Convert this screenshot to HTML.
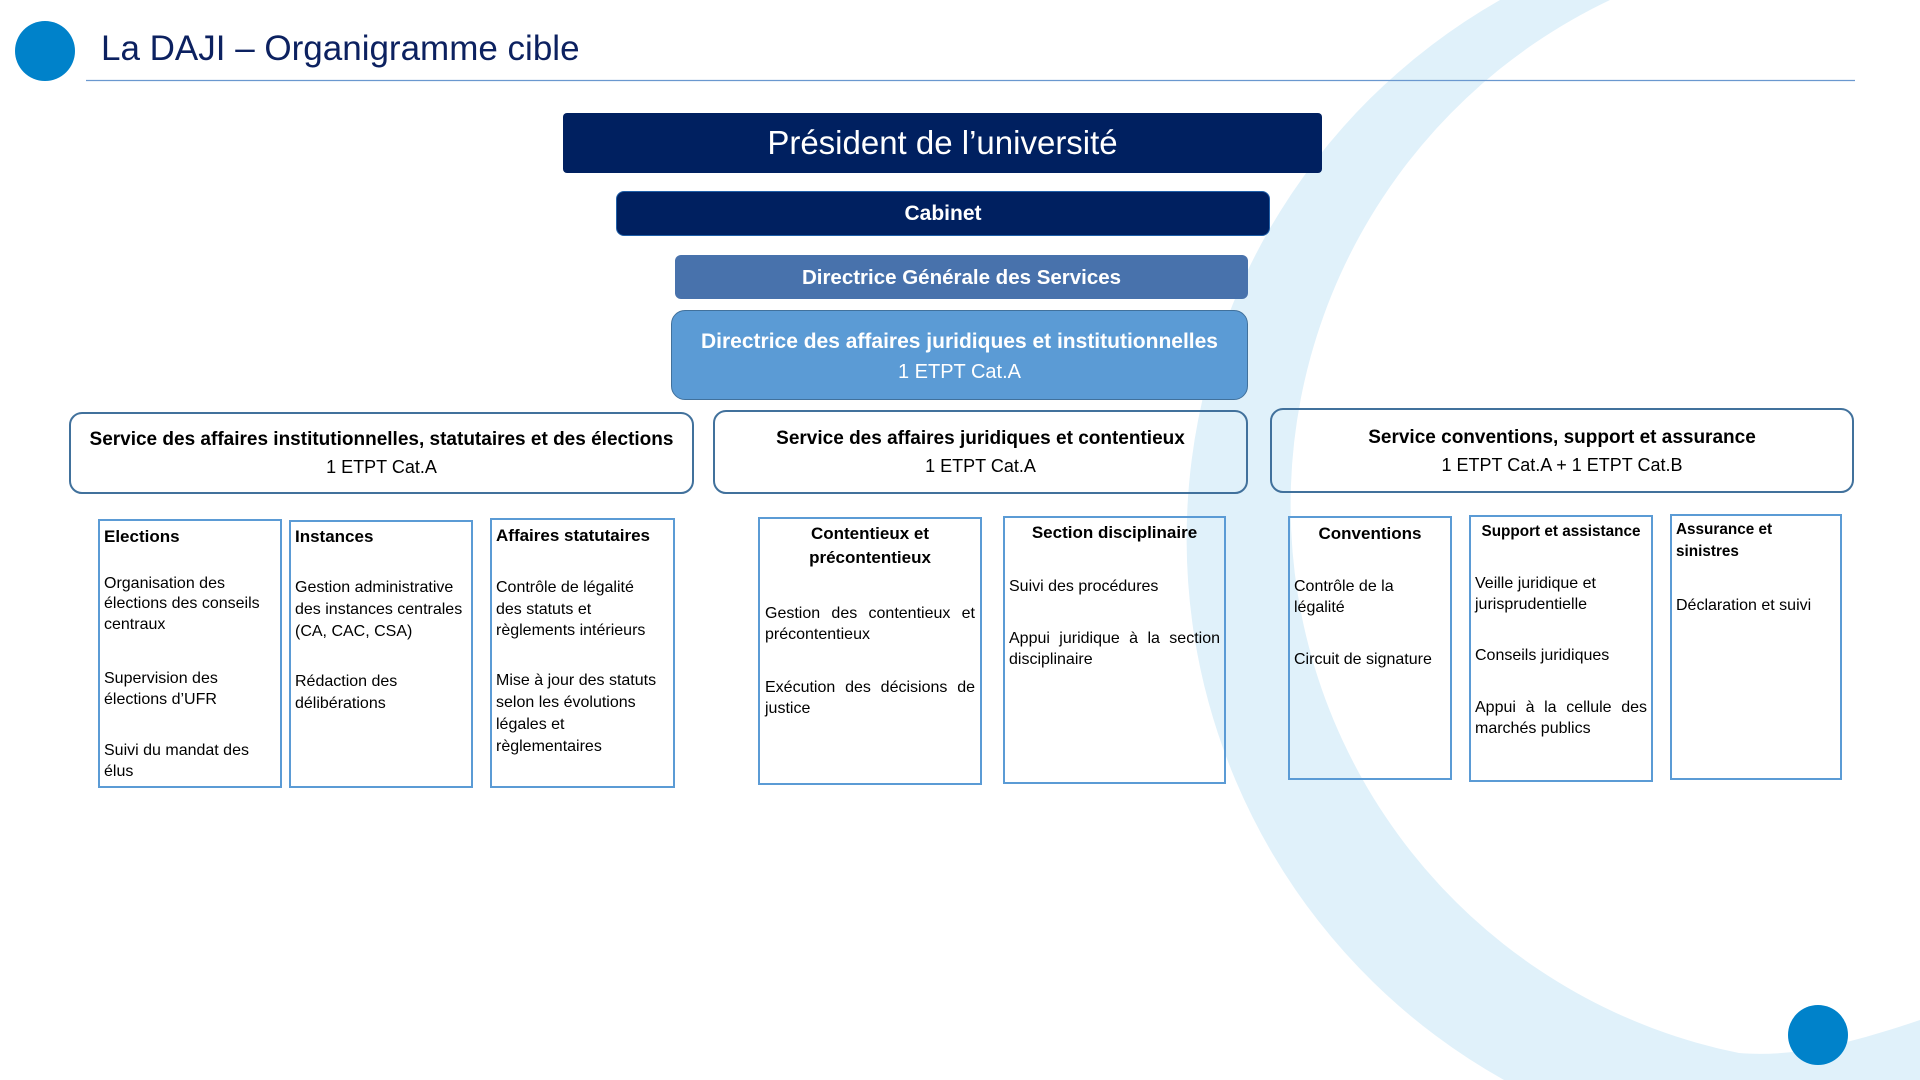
<!DOCTYPE html>
<html lang="fr">
<head>
<meta charset="utf-8">
<title>La DAJI – Organigramme cible</title>
<style>
  html,body{margin:0;padding:0;background:#fff;}
  #page{position:relative;width:1920px;height:1080px;overflow:hidden;background:#fff;font-family:"Liberation Sans",Arial,sans-serif;color:#000;}
  .abs{position:absolute;box-sizing:border-box;}
  .nw{white-space:nowrap;}
  .sb{position:absolute;box-sizing:border-box;border:2px solid #5b9bd5;background:transparent;}
  .svc{position:absolute;box-sizing:border-box;border:2px solid #41719c;border-radius:13px;background:transparent;}
  .h{position:absolute;white-space:nowrap;font-weight:bold;font-size:17px;line-height:20px;}
  .tx{position:absolute;white-space:nowrap;font-size:16px;line-height:21px;}
  .j{text-align:justify;text-align-last:justify;white-space:normal;}
  .ctr{text-align:center;}
</style>
</head>
<body>
<div id="page">

  <!-- background decoration -->
  <svg class="abs" style="left:0;top:0" width="1920" height="1080" viewBox="0 0 1920 1080">
    <path d="M1500 0 A620 620 0 0 0 1504 1080 L1920 1080 L1920 1020 C1860 1040 1800 1058 1739 1053 A559 559 0 0 1 1610 0 Z" fill="#e0f1fa"/>
    <line x1="86" y1="80.5" x2="1855" y2="80.5" stroke="#6a98cf" stroke-width="1.3"/>
    <circle cx="45" cy="51" r="30" fill="#0082ca"/>
    <circle cx="1818" cy="1035" r="30" fill="#0082ca"/>
  </svg>

  <!-- title -->
  <div class="abs nw" style="left:101px;top:29px;font-size:35px;line-height:40px;color:#0c2160;">La DAJI – Organigramme cible</div>

  <!-- President -->
  <div class="abs" style="left:563px;top:113px;width:759px;height:60px;background:#002060;border-radius:4px;"></div>
  <div class="abs nw ctr" style="left:563px;top:124px;width:759px;font-size:33px;line-height:38px;color:#fff;">Président de l’université</div>

  <!-- Cabinet -->
  <div class="abs" style="left:616px;top:191px;width:654px;height:45px;background:#002060;border:1.5px solid #1f5fa8;border-radius:8px;"></div>
  <div class="abs nw ctr" style="left:616px;top:202px;width:654px;font-size:21px;line-height:24px;color:#fff;font-weight:bold;">Cabinet</div>

  <!-- DGS -->
  <div class="abs" style="left:675px;top:255px;width:573px;height:44px;background:#4872ac;border-radius:6px;"></div>
  <div class="abs nw ctr" style="left:675px;top:266px;width:573px;font-size:20.5px;line-height:24px;color:#fff;font-weight:bold;">Directrice Générale des Services</div>

  <!-- DAJI -->
  <div class="abs" style="left:671px;top:310px;width:577px;height:90px;background:#5b9bd5;border:1.5px solid #41719c;border-radius:14px;"></div>
  <div class="abs nw ctr" style="left:671px;top:330px;width:577px;font-size:21px;line-height:24px;color:#fff;font-weight:bold;">Directrice des affaires juridiques et institutionnelles</div>
  <div class="abs nw ctr" style="left:671px;top:359.5px;width:577px;font-size:20px;line-height:24px;color:#fff;">1 ETPT Cat.A</div>

  <!-- Service boxes -->
  <div class="svc" style="left:69px;top:412px;width:625px;height:82px;"></div>
  <div class="abs nw ctr" style="left:69px;top:428.5px;width:625px;font-size:19px;line-height:22px;font-weight:bold;">Service des affaires institutionnelles, statutaires et des élections</div>
  <div class="abs nw ctr" style="left:69px;top:455.5px;width:625px;font-size:18px;line-height:22px;">1 ETPT Cat.A</div>

  <div class="svc" style="left:713px;top:410px;width:535px;height:84px;"></div>
  <div class="abs nw ctr" style="left:713px;top:428px;width:535px;font-size:19px;line-height:22px;font-weight:bold;">Service des affaires juridiques et contentieux</div>
  <div class="abs nw ctr" style="left:713px;top:454.5px;width:535px;font-size:18px;line-height:22px;">1 ETPT Cat.A</div>

  <div class="svc" style="left:1270px;top:408px;width:584px;height:85px;"></div>
  <div class="abs nw ctr" style="left:1270px;top:427px;width:584px;font-size:19px;line-height:22px;font-weight:bold;">Service conventions, support et assurance</div>
  <div class="abs nw ctr" style="left:1270px;top:453.5px;width:584px;font-size:18px;line-height:22px;">1 ETPT Cat.A + 1 ETPT Cat.B</div>

  <!-- Sub boxes -->
  <!-- Elections -->
  <div class="sb" style="left:98px;top:519px;width:184px;height:269px;"></div>
  <div class="h" style="left:104px;top:527px;">Elections</div>
  <div class="tx" style="left:104px;top:573.5px;line-height:20.5px;">Organisation des<br>élections des conseils<br>centraux</div>
  <div class="tx" style="left:104px;top:667.5px;">Supervision des<br>élections d’UFR</div>
  <div class="tx" style="left:104px;top:739.5px;">Suivi du mandat des<br>élus</div>

  <!-- Instances -->
  <div class="sb" style="left:289px;top:520px;width:184px;height:268px;"></div>
  <div class="h" style="left:295px;top:527px;">Instances</div>
  <div class="tx" style="left:295px;top:577px;line-height:22px;">Gestion administrative<br>des instances centrales<br>(CA, CAC, CSA)</div>
  <div class="tx" style="left:295px;top:671px;line-height:21.5px;">Rédaction des<br>délibérations</div>

  <!-- Affaires statutaires -->
  <div class="sb" style="left:490px;top:518px;width:185px;height:270px;"></div>
  <div class="h" style="left:496px;top:526px;">Affaires statutaires</div>
  <div class="tx" style="left:496px;top:577px;line-height:21.5px;">Contrôle de légalité<br>des statuts et<br>règlements intérieurs</div>
  <div class="tx" style="left:496px;top:670px;line-height:22px;">Mise à jour des statuts<br>selon les évolutions<br>légales et<br>règlementaires</div>

  <!-- Contentieux -->
  <div class="sb" style="left:758px;top:517px;width:224px;height:268px;"></div>
  <div class="h ctr" style="left:758px;top:522px;width:224px;line-height:24px;">Contentieux et<br>précontentieux</div>
  <div class="tx" style="left:765px;top:602.5px;width:210px;"><div class="j">Gestion des contentieux et</div>précontentieux</div>
  <div class="tx" style="left:765px;top:676.5px;width:210px;"><div class="j">Exécution des décisions de</div>justice</div>

  <!-- Section disciplinaire -->
  <div class="sb" style="left:1003px;top:516px;width:223px;height:268px;"></div>
  <div class="h ctr" style="left:1003px;top:523px;width:223px;">Section disciplinaire</div>
  <div class="tx" style="left:1009px;top:575.5px;">Suivi des procédures</div>
  <div class="tx" style="left:1009px;top:627.5px;width:211px;"><div class="j">Appui juridique à la section</div>disciplinaire</div>

  <!-- Conventions -->
  <div class="sb" style="left:1288px;top:516px;width:164px;height:264px;"></div>
  <div class="h ctr" style="left:1288px;top:524px;width:164px;">Conventions</div>
  <div class="tx" style="left:1294px;top:575.5px;">Contrôle de la<br>légalité</div>
  <div class="tx" style="left:1294px;top:648.5px;">Circuit de signature</div>

  <!-- Support et assistance -->
  <div class="sb" style="left:1469px;top:515px;width:184px;height:267px;"></div>
  <div class="h ctr" style="left:1469px;top:522px;width:184px;font-size:15.3px;">Support et assistance</div>
  <div class="tx" style="left:1475px;top:572.5px;">Veille juridique et<br>jurisprudentielle</div>
  <div class="tx" style="left:1475px;top:644.5px;">Conseils juridiques</div>
  <div class="tx" style="left:1475px;top:696.5px;width:172px;"><div class="j">Appui à la cellule des</div>marchés publics</div>

  <!-- Assurance et sinistres -->
  <div class="sb" style="left:1670px;top:514px;width:172px;height:266px;"></div>
  <div class="h" style="left:1676px;top:518.5px;font-size:15.3px;line-height:22.5px;">Assurance et<br>sinistres</div>
  <div class="tx" style="left:1676px;top:594.5px;">Déclaration et suivi</div>

</div>
</body>
</html>
